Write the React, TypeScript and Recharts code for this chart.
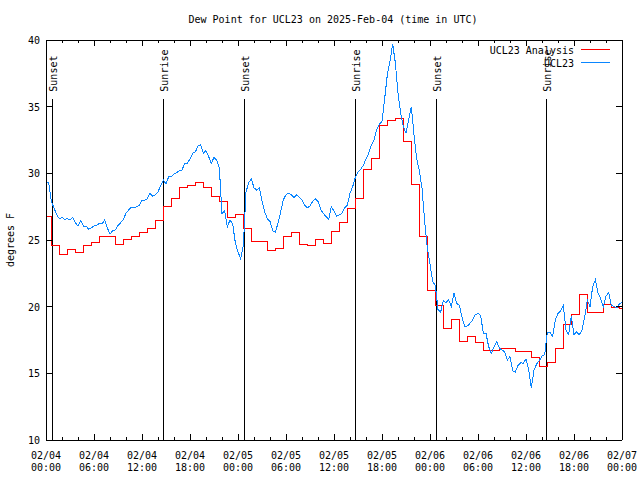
import React from 'react';
import { LineChart, Line, XAxis, YAxis, ReferenceLine, Legend } from 'recharts';

// hours after 2025-02-04 00:00 UTC, obs every 20 min
const OBS_STEP = 1 / 3;

const obsDay1 = [
  29.38, 29.3, 27.9, 27.4, 26.9, 26.6, 26.7, 26.55, 26.6, 26.5, 26.7, 26.3,
  26.05, 26.45, 26.05, 26.05, 25.8, 25.9, 26.05, 26.1, 26.25, 26.2, 26.5, 25.9,
  25.45, 25.7, 25.75, 26.1, 26.3, 26.55, 27.0, 27.25, 27.45, 27.4, 27.5, 27.6,
  28.0, 28.0, 28.1, 28.5, 28.3, 28.4, 28.6, 29.1, 29.5, 29.2, 29.75, 29.75,
  29.95, 30.05, 30.2, 30.25, 30.75, 30.75, 31.1, 31.5, 31.6, 32.05, 32.15, 31.5,
  31.7, 31.25, 30.75, 31.2, 31.0, 30.4, 27.0, 27.2, 26.0, 26.5, 26.2, 24.8,
];
const obsDay2 = [
  24.1, 23.6, 24.6, 28.6, 29.3, 29.6, 28.9, 28.75, 28.9, 27.9, 27.1, 26.6,
  26.4, 25.7, 25.6, 26.25, 27.1, 28.0, 28.4, 28.5, 28.4, 28.2, 28.4, 28.2,
  28.0, 27.6, 27.4, 27.55, 27.9, 28.1, 27.9, 27.3, 27.0, 26.75, 26.55, 27.5,
  27.15, 26.8, 26.9, 27.0, 27.4, 27.6, 28.5, 29.0, 29.7, 30.1, 30.3, 30.6,
  31.1, 31.5, 32.1, 32.5, 33.3, 33.7, 33.9, 35.6, 37.4, 38.4, 39.7, 38.3,
  36.0, 34.5, 33.5, 33.0, 34.0, 35.0, 32.9, 31.1, 30.2, 28.9, 26.4, 24.4,
];
const obsDay3 = [
  23.2, 21.9, 21.6, 19.8, 19.6, 20.45, 20.3, 20.5, 20.0, 21.0, 20.25, 20.1,
  19.2, 18.5, 18.55, 18.75, 19.0, 19.4, 19.5, 19.35, 18.0, 18.0, 17.0, 16.5,
  17.0, 17.4, 16.9, 16.75, 16.6, 16.0, 16.25, 15.2, 15.1, 15.6, 15.8, 15.75,
  16.1, 15.25, 13.9, 15.25, 15.7, 15.95, 16.3, 16.4, 18.1, 18.1, 17.75, 19.0,
  19.5, 19.7, 20.1, 18.25, 17.9, 19.3, 17.9, 18.1, 17.9, 18.25, 19.2, 20.5,
  20.0, 21.5, 22.0, 21.0, 20.6, 20.0, 20.8, 21.05, 20.1, 20.0, 19.9, 20.2,
  20.3,
];

// hourly analysis, each value holds from 20 min before the hour
const analysisValues = [
  26.75, 24.6, 23.9, 24.3, 24.1, 24.6, 24.85, 25.3, 25.3, 24.7, 25.05, 25.3,
  25.6, 25.9, 26.5, 27.5, 28.1, 28.95, 29.1, 29.3, 28.95, 28.3, 27.9, 26.7,
  26.9, 25.9, 24.875, 24.875, 24.25, 24.375, 25.3, 25.575, 24.675, 24.6, 25.075, 24.75,
  25.65, 26.35, 27.35, 28.1, 30.3, 31.15, 33.6, 34.0, 34.15, 32.4, 29.15, 25.3,
  21.25, 20.1, 18.375, 19.05, 17.4, 17.8, 17.35, 16.75, 16.75, 16.9, 16.9, 16.65,
  16.65, 16.2, 15.55, 15.825, 16.875, 18.7, 19.4, 20.9, 19.55, 19.55, 20.2, 19.95,
  19.85,
];

const sunHours = [0.75, 14.67, 24.8, 38.67, 48.8, 62.54];
const sunLabels = ['Sunset', 'Sunrise', 'Sunset', 'Sunrise', 'Sunset', 'Sunrise'];
const SUN_TOP = 35.6;

const xTickDates = ['02/04', '02/04', '02/04', '02/04', '02/05', '02/05', '02/05', '02/05', '02/06', '02/06', '02/06', '02/06', '02/07'];
const xTickTimes = ['00:00', '06:00', '12:00', '18:00', '00:00', '06:00', '12:00', '18:00', '00:00', '06:00', '12:00', '18:00', '00:00'];
const xTicks = Array.from({ length: 37 }, (_, i) => i * 2);
const yTicks = [10, 15, 20, 25, 30, 35, 40];

const obsData = [...obsDay1, ...obsDay2, ...obsDay3].map((v, i) => ({ t: i * OBS_STEP, v }));
const analysisData = analysisValues
  .map((v, i) => ({ t: Math.max(0, i - 1 / 3), v }))
  .concat({ t: 72, v: analysisValues[analysisValues.length - 1] });

const FONT = '"DejaVu Sans Mono", monospace';
const PLOT_W = 576;
const PLOT_H = 400;
const RED = '#ff0000';
const BLUE = '#0a86ff';

const XTick = (props: any) => {
  const { x, y, payload } = props;
  const h = payload.value;
  const major = h % 6 === 0;
  const len = major ? 6 : 3;
  const idx = h / 6;
  return (
    <g shapeRendering="crispEdges">
      <line x1={x} y1={y} x2={x} y2={y - len} stroke="#000" />
      <line x1={x} y1={y - PLOT_H} x2={x} y2={y - PLOT_H + len} stroke="#000" />
      {major && (
        <text x={x} y={y} textAnchor="middle" fontFamily={FONT} fontSize={10} fill="#000">
          <tspan x={x} dy={19}>{xTickDates[idx]}</tspan>
          <tspan x={x} dy={12}>{xTickTimes[idx]}</tspan>
        </text>
      )}
    </g>
  );
};

const YTick = (props: any) => {
  const { x, y, payload } = props;
  return (
    <g shapeRendering="crispEdges">
      <line x1={x} y1={y} x2={x + 6} y2={y} stroke="#000" />
      <line x1={x + PLOT_W} y1={y} x2={x + PLOT_W - 6} y2={y} stroke="#000" />
      <text x={x - 6} y={y} dy={4} textAnchor="end" fontFamily={FONT} fontSize={10} fill="#000">
        {payload.value}
      </text>
    </g>
  );
};

const SunLabel = (props: any) => {
  const { viewBox, text } = props;
  const x = viewBox.x + 5;
  const y = viewBox.y - 7;
  return (
    <text x={x} y={y} transform={`rotate(-90 ${x} ${y})`} fontFamily={FONT} fontSize={10} fill="#000">
      {text}
    </text>
  );
};

const LegendBox = () => (
  <svg width={200} height={30} style={{ display: 'block' }} shapeRendering="crispEdges">
    <text x={154} y={12} textAnchor="end" fontFamily={FONT} fontSize={10} fill="#000">UCL23 Analysis</text>
    <line x1={161} x2={190} y1={7.5} y2={7.5} stroke={RED} />
    <text x={154} y={24.5} textAnchor="end" fontFamily={FONT} fontSize={10} fill="#000">UCL23</text>
    <line x1={161} x2={190} y1={20.5} y2={20.5} stroke={BLUE} />
  </svg>
);

export default function App() {
  return (
    <div style={{ position: 'absolute', left: 0, top: 0, width: 640, height: 480, background: '#fff' }}>
      <LineChart width={640} height={480} margin={{ top: 40, right: 18, bottom: 0, left: 0 }}>
        <text x={333} y={23} textAnchor="middle" fontFamily={FONT} fontSize={10} fill="#000">
          Dew Point for UCL23 on 2025-Feb-04 (time in UTC)
        </text>
        <text x={14} y={240} transform="rotate(-90 14 240)" textAnchor="middle" fontFamily={FONT} fontSize={10} fill="#000">
          degrees F
        </text>
        <XAxis
          dataKey="t"
          type="number"
          domain={[0, 72]}
          ticks={xTicks}
          interval={0}
          height={40}
          tickSize={0}
          tickMargin={0}
          tickLine={false}
          axisLine={{ stroke: '#000', shapeRendering: 'crispEdges' }}
          tick={<XTick />}
        />
        <YAxis
          type="number"
          domain={[10, 40]}
          ticks={yTicks}
          interval={0}
          width={46}
          tickSize={0}
          tickMargin={0}
          tickLine={false}
          axisLine={{ stroke: '#000', shapeRendering: 'crispEdges' }}
          tick={<YTick />}
        />
        <ReferenceLine y={40} stroke="#000" shapeRendering="crispEdges" />
        <ReferenceLine x={72} stroke="#000" shapeRendering="crispEdges" />
        {sunHours.map((h, i) => (
          <ReferenceLine
            key={i}
            segment={[{ x: h, y: 10 }, { x: h, y: SUN_TOP }]}
            stroke="#000"
            shapeRendering="crispEdges"
            label={<SunLabel text={sunLabels[i]} />}
          />
        ))}
        <Line
          data={analysisData}
          dataKey="v"
          type="stepAfter"
          stroke={RED}
          strokeWidth={1}
          shapeRendering="crispEdges"
          dot={false}
          activeDot={false}
          isAnimationActive={false}
          name="UCL23 Analysis"
        />
        <Line
          data={obsData}
          dataKey="v"
          type="linear"
          stroke={BLUE}
          strokeWidth={1}
          shapeRendering="crispEdges"
          dot={false}
          activeDot={false}
          isAnimationActive={false}
          name="UCL23"
        />
        <Legend
          layout="vertical"
          align="center"
          verticalAlign="middle"
          content={<LegendBox />}
          wrapperStyle={{ top: 42, left: 420, width: 200, height: 30 }}
        />
      </LineChart>
    </div>
  );
}
